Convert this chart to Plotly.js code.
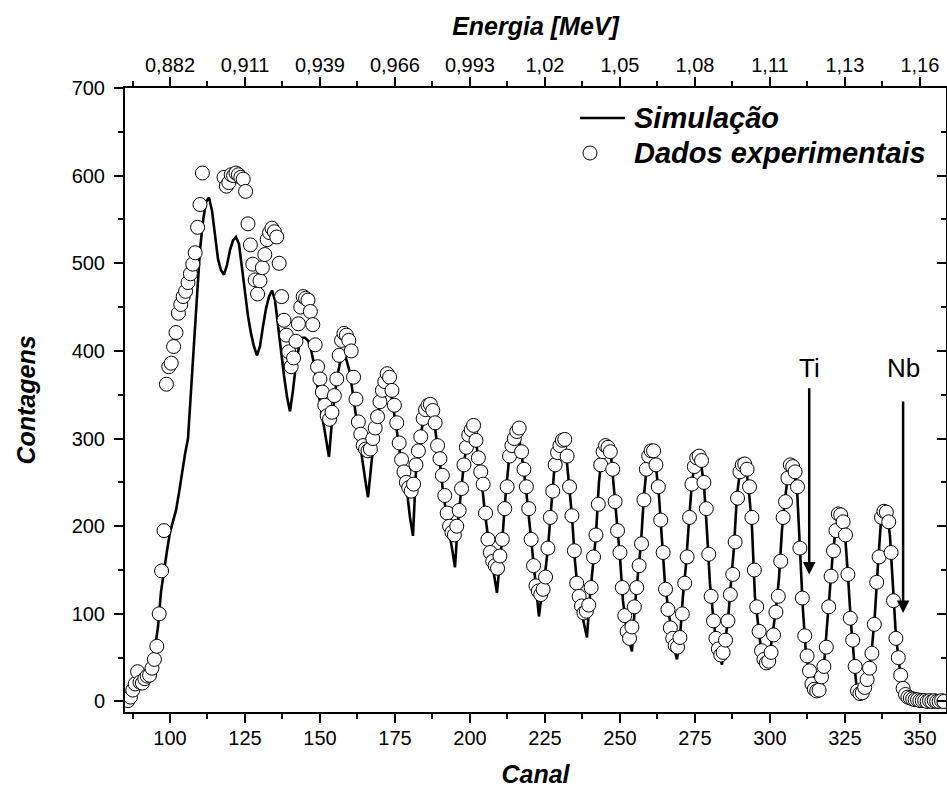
<!DOCTYPE html>
<html><head><meta charset="utf-8">
<script src="https://cdn.plot.ly/plotly-3.0.1.min.js"></script>
<style>body{margin:0;background:#fff}</style>
</head><body>
<div id="chart" style="width:947px;height:794px"></div>
<script>
// Experimental points: first channel and channel step
const expStart = 86;
const expStep = 0.8;
const expCounts = [
  1, 5, 13, 20, 34,
  22, 21, 26, 29, 30,
  38, 48, 63, 100, 149,
  195, 362, 382, 386, 405,
  421, 443, 453, 462, 468,
  478, 488, 499, 512, 541,
  567, 603, null, null, null,
  null, null, null, null, null,
  598, 588, 592, 601, 600,
  603, 601, 598, 596, 582,
  545, 521, 499, 481, 465,
  480, 495, 510, 527, 535,
  540, 536, 530, 500, 462,
  435, 418, 399, 382, 392,
  411, 431, 450, 462, 460,
  458, 445, 430, 407, 382,
  368, 353, 338, 326, 322,
  330, 349, 368, 395, 412,
  420, 418, 412, 400, 370,
  345, 319, 305, 292, 288,
  286, 288, 300, 312, 325,
  342, 355, 365, 374, 370,
  355, 338, 318, 295, 276,
  262, 250, 244, 240, 248,
  270, 286, 302, 323, 333,
  338, 339, 332, 318, 292,
  277, 258, 235, 215, 200,
  193, 190, 200, 218, 243,
  270, 290, 304, 310, 315,
  298, 278, 262, 248, 215,
  185, 170, 160, 155, 152,
  166, 185, 220, 245, 280,
  292, 300, 308, 312, 285,
  265, 245, 220, 185, 155,
  132, 126, 122, 128, 142,
  175, 210, 240, 270, 284,
  292, 298, 299, 280, 245,
  212, 172, 135, 120, 109,
  101, 103, 110, 130, 165,
  190, 225, 270, 285, 292,
  290, 285, 265, 228, 195,
  170, 130, 98, 80, 72,
  85, 108, 130, 155, 180,
  230, 265, 280, 286, 286,
  270, 245, 207, 170, 128,
  105, 84, 72, 64, 62,
  73, 100, 135, 165, 210,
  248, 268, 278, 280, 275,
  250, 220, 168, 120, 92,
  72, 60, 53, 56, 70,
  92, 122, 145, 182, 232,
  262, 270, 271, 265, 245,
  210, 150, 108, 80, 58,
  48, 44, 46, 56, 76,
  102, 120, 160, 210, 228,
  255, 270, 268, 262, 245,
  175, 118, 75, 52, 35,
  20, 14, 12, 13, 28,
  40, 62, 108, 143, 172,
  195, 214, 213, 205, 190,
  145, 95, 70, 40, 12,
  9, 10, 16, 25, 38,
  55, 88, 136, 165, 210,
  217, 216, 205, 170, 115,
  72, 50, 30, 15, 8,
  5, 4, 3, 2, 2,
  1, 1, 1, 0, 1,
  0, 1, 0, 0, 1,
  0
];

// Simulation: one value per channel
const simStart = 86;
const simStep = 1;
const simCounts = [
  0, 2, 6, 12, 18, 24, 30, 38, 48, 62,
  85, 125, 150, 172, 193, 205, 218, 238, 262, 282,
  300, 350, 400, 462, 515, 548, 570, 575, 560, 530,
  505, 492, 487, 498, 515, 526, 530, 522, 495, 465,
  440, 420, 405, 395, 405, 428, 448, 462, 469, 458,
  428, 398, 372, 348, 331, 355, 385, 405, 415, 415,
  412, 402, 385, 362, 340, 318, 298, 279, 320, 352,
  375, 392, 400, 388, 375, 350, 325, 300, 275, 255,
  233, 268, 300, 322, 340, 355, 362, 358, 345, 325,
  300, 275, 255, 240, 210, 189, 262, 290, 312, 328,
  336, 337, 322, 295, 272, 240, 215, 195, 175, 153,
  205, 240, 272, 295, 308, 312, 298, 270, 248, 215,
  185, 162, 145, 124, 160, 195, 240, 275, 292, 305,
  310, 288, 262, 232, 198, 160, 125, 97, 125, 145,
  175, 220, 260, 282, 292, 298, 285, 248, 212, 160,
  125, 105, 88, 73, 120, 160, 190, 250, 283, 290,
  290, 282, 245, 200, 165, 115, 88, 70, 57, 110,
  145, 180, 235, 270, 284, 286, 268, 235, 185, 135,
  108, 82, 62, 48, 72, 120, 155, 205, 250, 272,
  280, 272, 248, 195, 135, 100, 70, 55, 42, 68,
  92, 135, 175, 235, 262, 270, 268, 240, 200, 120,
  88, 60, 44, 46, 55, 80, 105, 140, 195, 230,
  258, 270, 265, 245, 170, 105, 55, 35, 11, 14,
  14, 25, 40, 85, 130, 170, 198, 213, 210, 192,
  145, 90, 50, 11, 10, 14, 22, 38, 60, 100,
  155, 205, 216, 215, 190, 125, 75, 45, 20, 4,
  2, 1, 0, 0, 0, 0, 0, 0, 0, 0,
  0, 0, 0
];

const channelTicks = [100, 125, 150, 175, 200, 225, 250, 275, 300, 325, 350];
const energyLabels = ['0,882', '0,911', '0,939', '0,966', '0,993', '1,02', '1,05', '1,08', '1,11', '1,13', '1,16'];
const seriesNames = ['Simulação', 'Dados experimentais'];
const elementLabels = ['Ti', 'Nb'];
const elementChannels = [313.1, 344.4];
const arrowTop = [359, 344];
const arrowTip = [145, 101];
const labelY = [381, 381];

const xExp = expCounts.map((_, i) => expStart + i * expStep);
const xSim = simCounts.map((_, i) => simStart + i * simStep);

const XR = [85, 358.7];
const YR = [-12, 700];

const tickFont = {family: 'Liberation Sans, Arial, sans-serif', size: 20, color: '#000'};
const titleFont = {family: 'Liberation Sans, Arial, sans-serif', size: 25, color: '#000', weight: 'bold', style: 'italic'};
const legendFont = {family: 'Liberation Sans, Arial, sans-serif', size: 29, color: '#000', weight: 'bold', style: 'italic'};

const traces = [
  {x: xSim, y: simCounts, type: 'scatter', mode: 'lines', name: seriesNames[0],
   line: {color: '#000', width: 2.6}, xaxis: 'x', yaxis: 'y'},
  {x: xExp, y: expCounts, type: 'scatter', mode: 'markers', name: seriesNames[1],
   marker: {symbol: 'circle', size: 14, color: '#fff', line: {color: '#000', width: 1}},
   xaxis: 'x', yaxis: 'y'},
  {x: [channelTicks[0], channelTicks[channelTicks.length - 1]], y: [null, null], type: 'scatter', mode: 'markers',
   xaxis: 'x2', yaxis: 'y', showlegend: false, hoverinfo: 'skip'},
  {x: [channelTicks[0], channelTicks[channelTicks.length - 1]], y: [null, null], type: 'scatter', mode: 'markers',
   xaxis: 'x', yaxis: 'y2', showlegend: false, hoverinfo: 'skip'}
];

// plot-area pixel helpers for the legend block
const PL = 125, PW = 821, PB = 712, PH = 624;
const px = v => (v - PL) / PW;
const py = v => (PB - v) / PH;

const annotations = [];
elementLabels.forEach((lab, i) => {
  annotations.push({x: elementChannels[i], y: labelY[i], xref: 'x', yref: 'y', text: lab, showarrow: false,
    font: {family: 'Liberation Sans, Arial, sans-serif', size: 26, color: '#000'}});
  annotations.push({x: elementChannels[i], y: arrowTip[i], xref: 'x', yref: 'y', ax: elementChannels[i], ay: arrowTop[i],
    axref: 'x', ayref: 'y', text: '', showarrow: true, arrowhead: 2, arrowsize: 1, arrowwidth: 2.5, arrowcolor: '#000'});
});
annotations.push({x: px(632), y: py(118), xref: 'paper', yref: 'paper', xanchor: 'left', yanchor: 'middle',
  text: seriesNames[0], showarrow: false, font: legendFont});
annotations.push({x: px(632), y: py(153), xref: 'paper', yref: 'paper', xanchor: 'left', yanchor: 'middle',
  text: seriesNames[1], showarrow: false, font: legendFont});

const shapes = [
  {type: 'line', xref: 'paper', yref: 'paper', x0: px(580), x1: px(625), y0: py(118), y1: py(118),
   line: {color: '#000', width: 2.6}},
  {type: 'circle', xref: 'paper', yref: 'paper', x0: px(583), x1: px(597), y0: py(160), y1: py(146),
   fillcolor: '#fff', line: {color: '#000', width: 1}}
];

const layout = {
  width: 947, height: 794,
  margin: {l: 125, r: 1, t: 88, b: 82},
  paper_bgcolor: '#fff', plot_bgcolor: '#fff',
  showlegend: false,
  xaxis: {range: XR, tickmode: 'linear', tick0: 0, dtick: 25, ticks: 'outside', ticklen: 9, tickwidth: 2,
    tickcolor: '#000', showline: true, linewidth: 2, linecolor: '#000', showgrid: false, zeroline: false,
    tickfont: tickFont, ticklabelstandoff: -2,
    minor: {tick0: 0, dtick: 12.5, ticks: 'outside', ticklen: 5, tickwidth: 2, tickcolor: '#000'},
    title: {text: 'Canal', font: titleFont, standoff: 17}},
  xaxis2: {range: XR, overlaying: 'x', side: 'top', tickmode: 'array', tickvals: channelTicks, ticktext: energyLabels,
    ticks: 'outside', ticklen: 9, tickwidth: 2, tickcolor: '#000', showline: true, linewidth: 2, linecolor: '#000',
    showgrid: false, zeroline: false, tickfont: tickFont, ticklabelstandoff: -3,
    minor: {tickmode: 'linear', tick0: 0, dtick: 12.5, ticks: 'outside', ticklen: 5, tickwidth: 2, tickcolor: '#000'},
    title: {text: 'Energia [MeV]', font: titleFont, standoff: 11}},
  yaxis: {range: YR, tickmode: 'linear', tick0: 0, dtick: 100, ticks: 'outside', ticklen: 9, tickwidth: 2,
    tickcolor: '#000', showline: true, linewidth: 2, linecolor: '#000', showgrid: false, zeroline: false,
    tickfont: tickFont, ticklabelstandoff: 5,
    minor: {tick0: 0, dtick: 50, ticks: 'outside', ticklen: 5, tickwidth: 2, tickcolor: '#000'},
    title: {text: 'Contagens', font: titleFont, standoff: 29}},
  yaxis2: {range: YR, overlaying: 'y', side: 'right', tickmode: 'linear', tick0: 0, dtick: 100, ticks: 'inside',
    ticklen: 9, tickwidth: 2, tickcolor: '#000', showline: true, linewidth: 2, linecolor: '#000', showgrid: false,
    zeroline: false, showticklabels: false,
    minor: {tick0: 0, dtick: 50, ticks: 'inside', ticklen: 5, tickwidth: 2, tickcolor: '#000'}},
  annotations: annotations,
  shapes: shapes
};

Plotly.newPlot('chart', traces, layout, {displayModeBar: false, staticPlot: true});
</script>
</body></html>
